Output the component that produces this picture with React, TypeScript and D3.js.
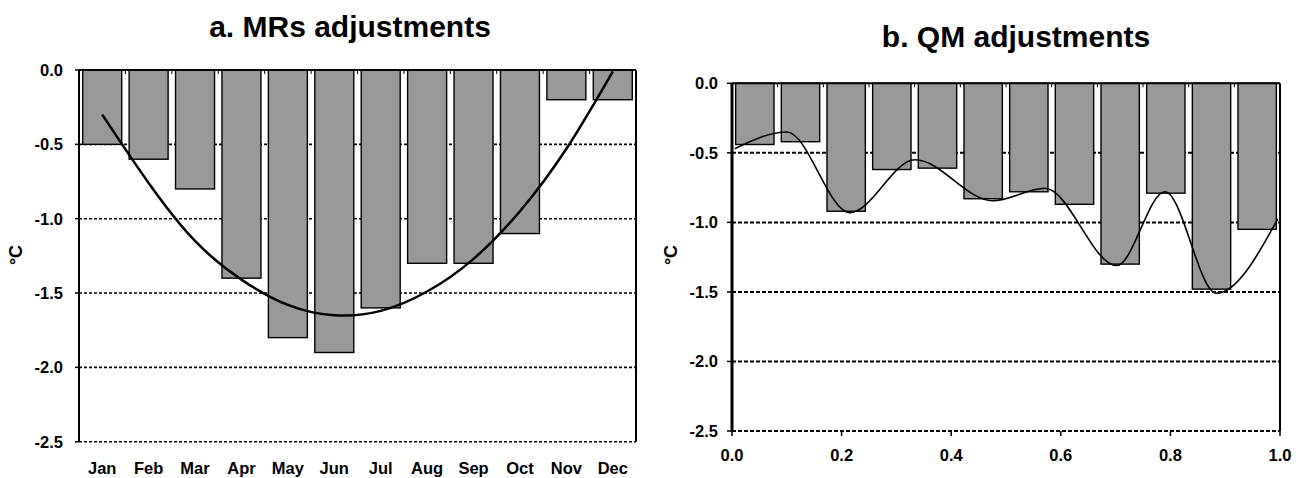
import React from "react";
import * as d3 from "d3";

// Panel a: monthly MR adjustments with quadratic fit (°C)
const months = ["Jan", "Feb", "Mar", "Apr", "May", "Jun", "Jul", "Aug", "Sep", "Oct", "Nov", "Dec"];
const mrsAdjust = [-0.5, -0.6, -0.8, -1.4, -1.8, -1.9, -1.6, -1.3, -1.3, -1.1, -0.2, -0.2];
const mrsFit = [-0.3, -0.76, -1.15, -1.41, -1.58, -1.65, -1.62, -1.49, -1.27, -0.95, -0.53, -0.01];

// Panel b: quantile-mapping adjustments by probability bin with smooth fit (°C)
const qmBins = d3.range(12);
const qmAdjust = [-0.44, -0.42, -0.92, -0.62, -0.61, -0.83, -0.78, -0.87, -1.3, -0.79, -1.48, -1.05];
const qmFitX = [0.005, 0.1, 0.215, 0.334, 0.476, 0.571, 0.702, 0.79, 0.884, 0.996];
const qmFitY = [-0.47, -0.35, -0.93, -0.55, -0.845, -0.755, -1.31, -0.78, -1.51, -0.975];

const yTicks = [0, -0.5, -1.0, -1.5, -2.0, -2.5];
const probTicks = [0, 0.2, 0.4, 0.6, 0.8, 1.0];

const FONT = "'Liberation Sans', Arial, Helvetica, sans-serif";
const BAR_FILL = "#999999";

function fmt(v: number) {
  return v.toFixed(1);
}

function PanelA() {
  const x0 = 79, x1 = 636, y0 = 70, y1 = 441.7;
  const y = d3.scaleLinear().domain([0, -2.5]).range([y0, y1]);
  const x = d3.scaleBand<string>().domain(months).range([x0, x1]).paddingInner(0.16).paddingOuter(0.08);
  const step = x.step();
  const line = d3
    .line<number>()
    .x((_, i) => (x(months[i]) as number) + x.bandwidth() / 2)
    .y((d) => y(d))
    .curve(d3.curveNatural);

  return (
    <g>
      <text x={350} y={37} textAnchor="middle" fontFamily={FONT} fontWeight="bold" fontSize={30}>
        a. MRs adjustments
      </text>
      {yTicks.slice(1).map((t) => (
        <line key={t} x1={x0} x2={x1} y1={y(t)} y2={y(t)} stroke="#000" strokeWidth={1.6} strokeDasharray="3,2" />
      ))}
      {mrsAdjust.map((v, i) => (
        <rect
          key={months[i]}
          x={x(months[i])}
          y={y(0)}
          width={x.bandwidth()}
          height={y(v) - y(0)}
          fill={BAR_FILL}
          stroke="#000"
          strokeWidth={1.4}
        />
      ))}
      <path d={line(mrsFit) || ""} fill="none" stroke="#000" strokeWidth={2.5} />
      {/* category ticks along the zero line */}
      {d3.range(1, 12).map((i) => (
        <line key={i} x1={x0 + i * step} x2={x0 + i * step} y1={y0} y2={y0 + 4} stroke="#000" strokeWidth={1} />
      ))}
      <line x1={x0} x2={x1} y1={y0} y2={y0} stroke="#000" strokeWidth={2} />
      <line x1={x0} x2={x0} y1={y0} y2={y1} stroke="#000" strokeWidth={2} />
      <line x1={x1} x2={x1} y1={y0} y2={y1} stroke="#000" strokeWidth={2} />
      {yTicks.map((t) => (
        <g key={t}>
          <line x1={x0 - 4} x2={x0} y1={y(t)} y2={y(t)} stroke="#000" strokeWidth={1.5} />
          <text x={63} y={y(t) + 6} textAnchor="end" fontFamily={FONT} fontWeight="bold" fontSize={16.5}>
            {fmt(t)}
          </text>
        </g>
      ))}
      {months.map((m) => (
        <text
          key={m}
          x={(x(m) as number) + x.bandwidth() / 2}
          y={474}
          textAnchor="middle"
          fontFamily={FONT}
          fontWeight="bold"
          fontSize={16.5}
        >
          {m}
        </text>
      ))}
      <text
        transform={`translate(22,255) rotate(-90)`}
        textAnchor="middle"
        fontFamily={FONT}
        fontWeight="bold"
        fontSize={18}
      >
        °C
      </text>
    </g>
  );
}

function PanelB() {
  const x0 = 732, x1 = 1280, y0 = 83.3, y1 = 431;
  const y = d3.scaleLinear().domain([0, -2.5]).range([y0, y1]);
  const xp = d3.scaleLinear().domain([0, 1]).range([x0, x1]);
  const xb = d3.scaleBand<number>().domain(qmBins).range([x0, x1]).paddingInner(0.16).paddingOuter(0.08);
  const step = xb.step();
  const line = d3
    .line<number>()
    .x((_, i) => xp(qmFitX[i]))
    .y((d) => y(d))
    .curve(d3.curveMonotoneX);

  return (
    <g>
      <text x={1016} y={47} textAnchor="middle" fontFamily={FONT} fontWeight="bold" fontSize={30}>
        b. QM adjustments
      </text>
      {yTicks.slice(1).map((t) => (
        <line key={t} x1={x0} x2={x1} y1={y(t)} y2={y(t)} stroke="#000" strokeWidth={2} strokeDasharray="4,2" />
      ))}
      {qmAdjust.map((v, i) => (
        <rect
          key={i}
          x={xb(i)}
          y={y(0)}
          width={xb.bandwidth()}
          height={y(v) - y(0)}
          fill={BAR_FILL}
          stroke="#000"
          strokeWidth={1.4}
        />
      ))}
      <path d={line(qmFitY) || ""} fill="none" stroke="#000" strokeWidth={1.6} />
      {d3.range(1, 12).map((i) => (
        <line key={i} x1={x0 + i * step} x2={x0 + i * step} y1={y0} y2={y0 + 4} stroke="#000" strokeWidth={1} />
      ))}
      <line x1={x0} x2={x1} y1={y0} y2={y0} stroke="#000" strokeWidth={2} />
      <line x1={x1} x2={x1} y1={y0} y2={y1} stroke="#000" strokeWidth={2} />
      <line x1={x0} x2={x0} y1={y0} y2={y1} stroke="#000" strokeWidth={3} />
      {yTicks.map((t) => (
        <g key={t}>
          <line x1={x0 - 5} x2={x0} y1={y(t)} y2={y(t)} stroke="#000" strokeWidth={1.5} />
          <text x={718} y={y(t) + 6} textAnchor="end" fontFamily={FONT} fontWeight="bold" fontSize={16.5}>
            {fmt(t)}
          </text>
        </g>
      ))}
      {probTicks.map((t) => (
        <g key={t}>
          <line x1={xp(t)} x2={xp(t)} y1={y1} y2={y1 + 5} stroke="#000" strokeWidth={1.5} />
          <text x={xp(t)} y={461} textAnchor="middle" fontFamily={FONT} fontWeight="bold" fontSize={16.5}>
            {fmt(t)}
          </text>
        </g>
      ))}
      <text
        transform={`translate(677,255) rotate(-90)`}
        textAnchor="middle"
        fontFamily={FONT}
        fontWeight="bold"
        fontSize={18}
      >
        °C
      </text>
    </g>
  );
}

export default function App() {
  return (
    <svg
      width={1299}
      height={478}
      style={{ position: "absolute", left: 0, top: 0, background: "#fff" }}
    >
      <PanelA />
      <PanelB />
    </svg>
  );
}
